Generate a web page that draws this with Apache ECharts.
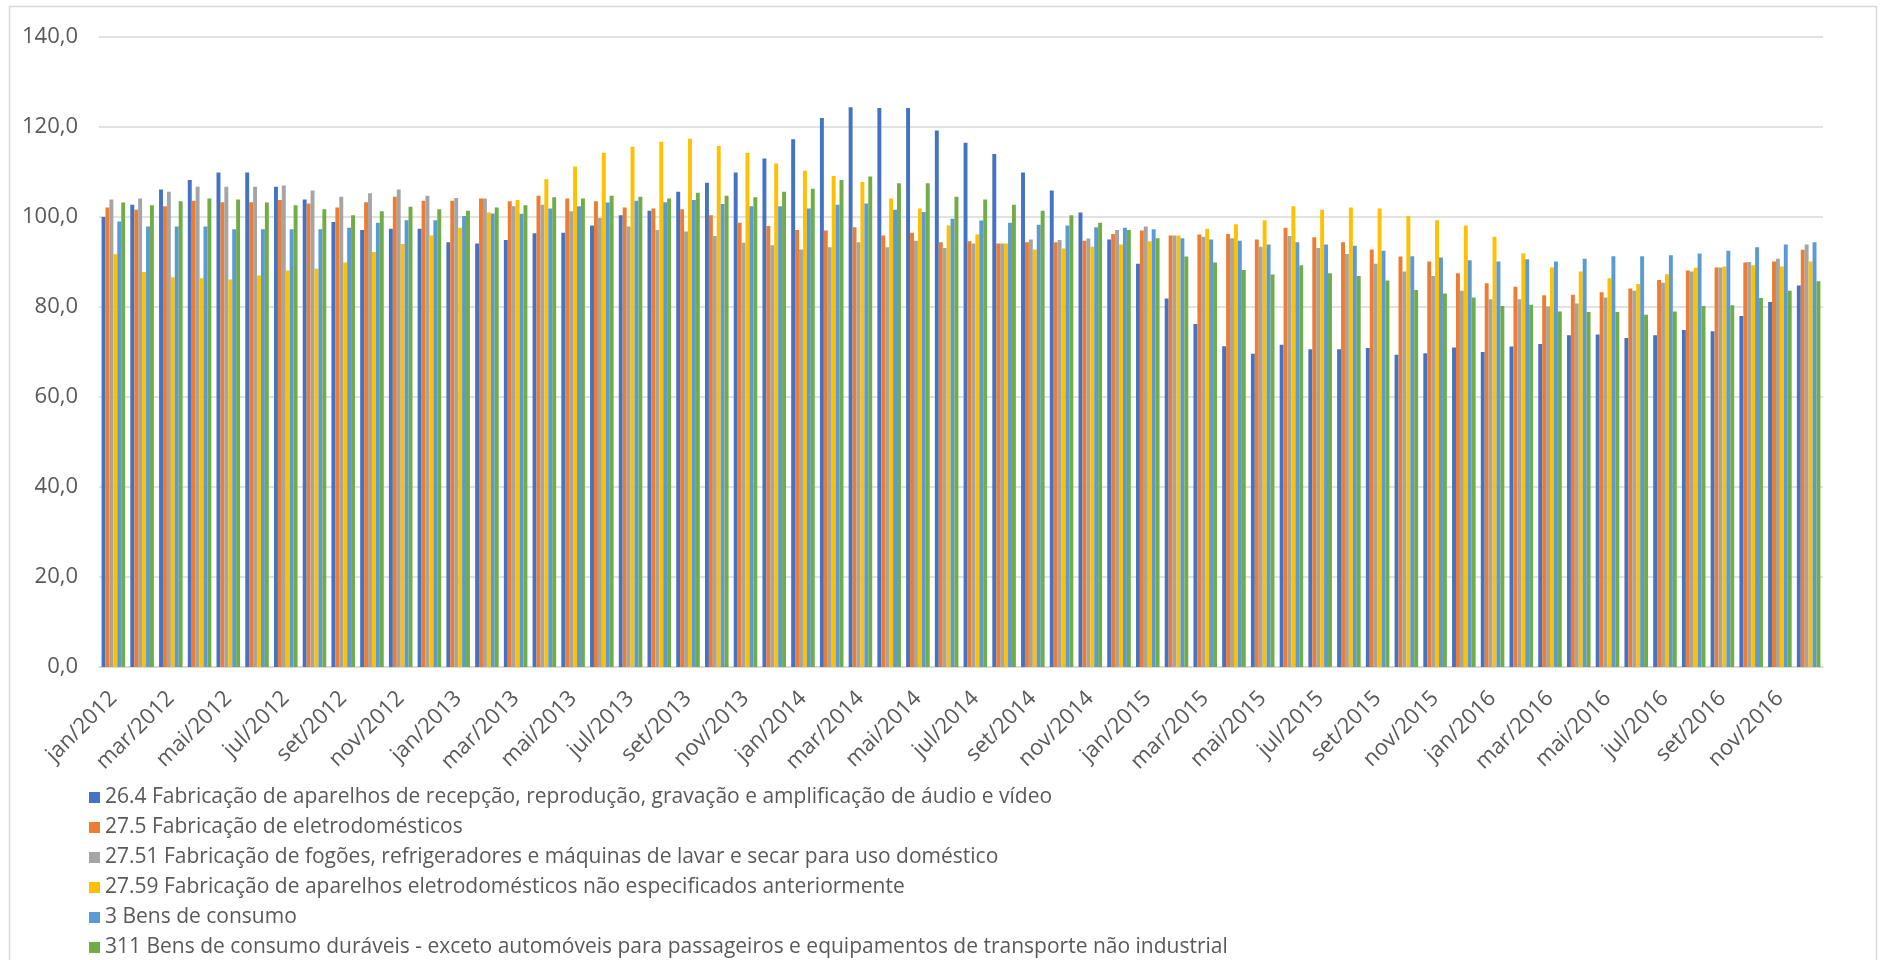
<!DOCTYPE html>
<html>
<head>
<meta charset="utf-8">
<script src="https://cdn.jsdelivr.net/npm/echarts@6/dist/echarts.min.js"></script>
<style>
  html, body { margin: 0; padding: 0; background: #ffffff; }
  #chart { width: 1887px; height: 960px; }
</style>
</head>
<body>
<div id="chart"></div>
<script>
// Monthly index series, jan/2012 – dez/2016
const months = [
  'jan/2012','fev/2012','mar/2012','abr/2012','mai/2012','jun/2012','jul/2012','ago/2012','set/2012','out/2012','nov/2012','dez/2012',
  'jan/2013','fev/2013','mar/2013','abr/2013','mai/2013','jun/2013','jul/2013','ago/2013','set/2013','out/2013','nov/2013','dez/2013',
  'jan/2014','fev/2014','mar/2014','abr/2014','mai/2014','jun/2014','jul/2014','ago/2014','set/2014','out/2014','nov/2014','dez/2014',
  'jan/2015','fev/2015','mar/2015','abr/2015','mai/2015','jun/2015','jul/2015','ago/2015','set/2015','out/2015','nov/2015','dez/2015',
  'jan/2016','fev/2016','mar/2016','abr/2016','mai/2016','jun/2016','jul/2016','ago/2016','set/2016','out/2016','nov/2016','dez/2016'
];

const seriesNames = [
  '26.4 Fabricação de aparelhos de recepção, reprodução, gravação e amplificação de áudio e vídeo',
  '27.5 Fabricação de eletrodomésticos',
  '27.51 Fabricação de fogões, refrigeradores e máquinas de lavar e secar para uso doméstico',
  '27.59 Fabricação de aparelhos eletrodomésticos não especificados anteriormente',
  '3 Bens de consumo',
  '311 Bens de consumo duráveis - exceto automóveis para passageiros e equipamentos de transporte não industrial'
];

const audioVideo = [
  100.0, 102.7, 106.1, 108.2, 109.9, 109.9, 106.7, 103.9, 98.9, 97.1, 97.4, 97.4,
  94.4, 94.1, 94.9, 96.4, 96.5, 98.1, 100.4, 101.4, 105.6, 107.6, 109.9, 113.0,
  117.3, 122.0, 124.4, 124.2, 124.2, 119.2, 116.5, 114.0, 109.9, 105.9, 101.0, 95.0,
  89.6, 81.9, 76.2, 71.3, 69.6, 71.6, 70.6, 70.6, 70.9, 69.4, 69.7, 71.0,
  70.0, 71.2, 71.8, 73.7, 73.9, 73.1, 73.7, 74.9, 74.6, 78.0, 81.1, 84.8
];

const eletrodomesticos = [
  102.1, 101.6, 102.4, 103.6, 103.3, 103.3, 103.8, 103.0, 102.1, 103.3, 104.5, 103.6,
  103.6, 104.1, 103.5, 104.7, 104.1, 103.5, 102.1, 101.9, 101.7, 100.4, 98.7, 98.0,
  97.1, 97.0, 97.7, 95.9, 96.5, 94.4, 94.6, 94.1, 94.4, 94.4, 94.7, 96.2,
  97.0, 95.9, 96.1, 96.2, 95.0, 97.6, 95.5, 94.4, 92.8, 91.2, 90.1, 87.5,
  85.3, 84.5, 82.6, 82.7, 83.3, 84.1, 86.0, 88.1, 88.8, 89.9, 90.1, 92.7
];

const fogoesRefrigeradores = [
  103.9, 104.1, 105.6, 106.7, 106.7, 106.7, 107.0, 105.9, 104.5, 105.3, 106.1, 104.7,
  104.2, 104.1, 102.4, 102.7, 101.3, 99.8, 97.9, 97.1, 96.8, 95.8, 94.3, 93.7,
  92.8, 93.3, 94.4, 93.3, 94.7, 93.1, 94.1, 94.1, 95.0, 94.9, 95.2, 97.1,
  97.9, 95.9, 95.6, 95.3, 93.4, 95.8, 93.1, 91.8, 89.6, 87.9, 86.9, 83.6,
  81.7, 81.7, 80.1, 80.8, 82.1, 83.6, 85.4, 87.9, 88.8, 90.0, 90.7, 93.9
];

const outrosEletrodomesticos = [
  91.7, 87.8, 86.6, 86.4, 86.1, 87.0, 88.1, 88.5, 89.9, 92.2, 94.0, 95.9,
  97.6, 101.0, 103.8, 108.4, 111.2, 114.3, 115.6, 116.7, 117.4, 115.8, 114.3, 111.9,
  110.3, 109.1, 107.8, 104.1, 101.9, 98.1, 96.1, 94.1, 92.8, 93.0, 93.4, 93.9,
  94.6, 95.9, 97.4, 98.4, 99.3, 102.4, 101.6, 102.1, 101.9, 100.2, 99.3, 98.1,
  95.6, 91.9, 88.8, 87.9, 86.4, 85.1, 87.3, 88.7, 89.0, 89.3, 89.0, 90.1
];

const bensConsumo = [
  99.0, 97.9, 97.9, 97.9, 97.3, 97.3, 97.3, 97.3, 97.6, 98.7, 99.3, 99.3,
  100.2, 100.8, 100.7, 101.9, 102.4, 103.2, 103.6, 103.3, 103.8, 102.9, 102.4, 102.4,
  101.9, 102.7, 103.0, 101.6, 101.1, 99.6, 99.2, 98.7, 98.3, 98.1, 97.7, 97.6,
  97.3, 95.3, 95.0, 94.7, 93.9, 94.4, 93.9, 93.6, 92.5, 91.3, 91.0, 90.4,
  90.1, 90.6, 90.1, 90.7, 91.3, 91.3, 91.5, 91.9, 92.5, 93.3, 93.9, 94.4
];

const bensDuraveis = [
  103.2, 102.6, 103.5, 104.1, 103.9, 103.2, 102.6, 101.7, 100.4, 101.3, 102.3, 101.7,
  101.4, 102.1, 102.6, 104.4, 104.1, 104.7, 104.5, 104.1, 105.4, 104.7, 104.4, 105.6,
  106.3, 108.2, 109.0, 107.5, 107.5, 104.5, 103.9, 102.7, 101.4, 100.4, 98.7, 97.1,
  95.3, 91.2, 89.9, 88.2, 87.2, 89.3, 87.5, 86.9, 85.9, 83.8, 83.0, 82.1,
  80.2, 80.5, 79.0, 78.9, 78.9, 78.3, 79.0, 80.2, 80.4, 82.0, 83.6, 85.7
];

const seriesValues = [audioVideo, eletrodomesticos, fogoesRefrigeradores, outrosEletrodomesticos, bensConsumo, bensDuraveis];
const palette = ['#4472C4', '#ED7D31', '#A5A5A5', '#FFC000', '#5B9BD5', '#70AD47'];

const textColor = '#595959';
const gridColor = '#d9d9d9';
const fontFamily = '"Open Sans", "Noto Sans", sans-serif';

const chart = echarts.init(document.getElementById('chart'), null, { renderer: 'canvas' });

chart.setOption({
  animation: false,
  backgroundColor: '#ffffff',
  color: palette,
  textStyle: { fontFamily: fontFamily },
  graphic: [{
    type: 'rect',
    shape: { x: 9.5, y: 6.5, width: 1867, height: 970 },
    style: { fill: 'none', stroke: gridColor, lineWidth: 1.5 },
    silent: true
  }],
  grid: { left: 99, right: 64, top: 37, bottom: 293, containLabel: false },
  legend: {
    orient: 'vertical',
    left: 89,
    top: 787,
    padding: 0,
    itemWidth: 11,
    itemHeight: 11,
    itemGap: 9,
    icon: 'rect',
    textStyle: { color: textColor, fontSize: 21, lineHeight: 21, fontFamily: fontFamily },
    data: seriesNames
  },
  xAxis: {
    type: 'category',
    data: months,
    axisLine: { show: true, lineStyle: { color: gridColor, width: 1.5 } },
    axisTick: { show: false },
    axisLabel: {
      interval: 1,
      rotate: 45,
      color: textColor,
      fontSize: 22,
      margin: 28,
      fontFamily: fontFamily
    }
  },
  yAxis: {
    type: 'value',
    min: 0,
    max: 140,
    interval: 20,
    axisLine: { show: false },
    axisTick: { show: false },
    splitLine: { lineStyle: { color: gridColor, width: 1.5 } },
    axisLabel: {
      color: textColor,
      fontSize: 22,
      margin: 21,
      fontFamily: fontFamily,
      formatter: v => v.toFixed(1).replace('.', ',')
    }
  },
  series: seriesNames.map((name, i) => ({
    name: name,
    type: 'bar',
    data: seriesValues[i],
    barGap: '0%',
    barCategoryGap: '18%',
    itemStyle: { color: palette[i] }
  }))
});
</script>
</body>
</html>
